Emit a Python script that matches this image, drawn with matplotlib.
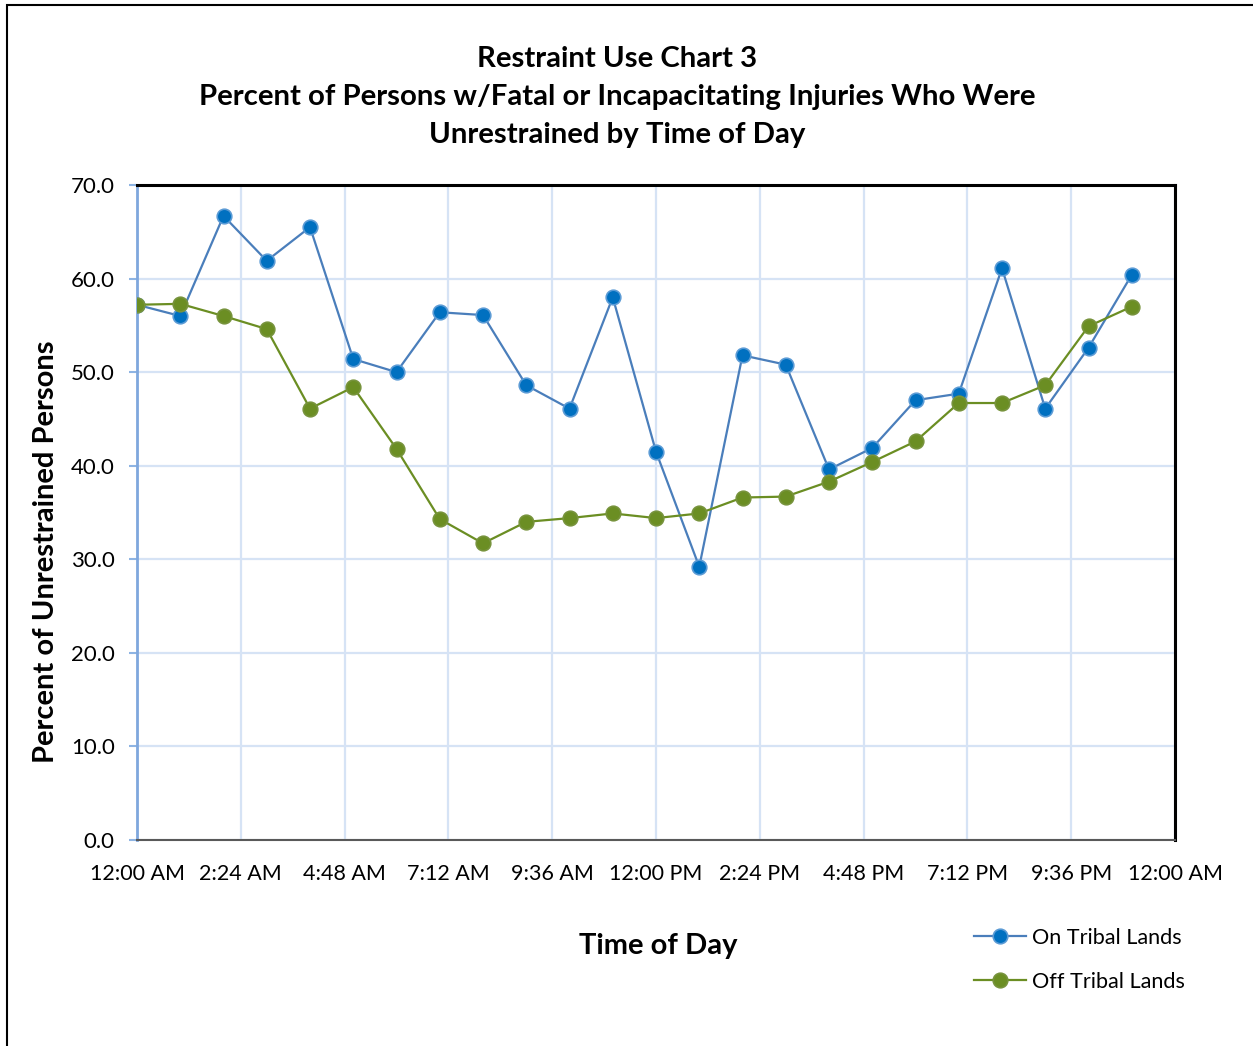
import numpy as np
import matplotlib.pyplot as plt
from matplotlib.patches import Rectangle

plt.rcParams["font.family"] = ["Lato", "DejaVu Sans"]

# hour of the day (0-23), plotted as a fraction of a day
hours = list(range(24))
on_tribal = [57.2, 56.0, 66.7, 61.9, 65.5, 51.4, 50.0, 56.4, 56.1, 48.6, 46.1, 58.0,
             41.5, 29.2, 51.8, 50.8, 39.6, 41.9, 47.0, 47.7, 61.1, 46.1, 52.6, 60.4]
off_tribal = [57.2, 57.3, 56.0, 54.6, 46.1, 48.4, 41.8, 34.3, 31.7, 34.0, 34.4, 34.9,
              34.4, 34.9, 36.6, 36.7, 38.3, 40.4, 42.6, 46.7, 46.7, 48.6, 54.9, 57.0]
tick_labels = ["12:00 AM", "2:24 AM", "4:48 AM", "7:12 AM", "9:36 AM", "12:00 PM",
               "2:24 PM", "4:48 PM", "7:12 PM", "9:36 PM", "12:00 AM"]
y_ticks = [0, 10, 20, 30, 40, 50, 60, 70]

x = np.array(hours) / 24.0

fig = plt.figure(figsize=(12.53, 10.46), dpi=100)
ax = fig.add_axes([137 / 1253, 1 - 840 / 1046, 1038 / 1253, 655 / 1046])

# outer chart border
fig.patches.append(Rectangle((7 / 1253, -0.01), 1.0, 1 - 5 / 1046 + 0.01,
                             transform=fig.transFigure, fill=False,
                             edgecolor="black", linewidth=1.5))

ax.plot(x, on_tribal, color="#4A7EBB", linewidth=1.6, marker="o", markersize=10.5,
        markerfacecolor="#0070C0", markeredgecolor="#5B9BD5", markeredgewidth=1.2,
        label="On Tribal Lands", zorder=3)
ax.plot(x, off_tribal, color="#6B8E23", linewidth=1.6, marker="o", markersize=10.5,
        markerfacecolor="#6B8E23", markeredgecolor="#77933C", markeredgewidth=1.2,
        label="Off Tribal Lands", zorder=3)

ax.set_xlim(0, 1)
ax.set_ylim(0, 70)
ax.set_xticks(np.linspace(0, 1, 11))
ax.set_xticklabels(tick_labels, fontsize=15.5)
ax.set_yticks(y_ticks)
ax.set_yticklabels([f"{v:.1f}" for v in y_ticks], fontsize=16)
ax.tick_params(axis="x", length=0, pad=17)
ax.tick_params(axis="y", length=6, color="#8EB4E3", width=1.5, pad=10)

ax.grid(True, color="#D6E3F5", linewidth=1.6)
ax.set_axisbelow(True)

ax.spines["top"].set_color("black")
ax.spines["top"].set_linewidth(2.2)
ax.spines["right"].set_color("black")
ax.spines["right"].set_linewidth(2.2)
ax.spines["left"].set_color("#7FA7DD")
ax.spines["left"].set_linewidth(2)
ax.spines["bottom"].set_color("#595959")
ax.spines["bottom"].set_linewidth(1.5)

fig.text(617 / 1253, 1 - 97 / 1046, "Restraint Use Chart 3\n"
         "Percent of Persons w/Fatal or Incapacitating Injuries Who Were\n"
         "Unrestrained by Time of Day",
         ha="center", va="center", fontsize=21.2, fontweight="bold",
         linespacing=1.57)

fig.text(46 / 1253, 1 - 552 / 1046, "Percent of Unrestrained Persons",
         rotation=90, ha="center", va="center", fontsize=21, fontweight="bold")
fig.text(658 / 1253, 1 - 946 / 1046, "Time of Day",
         ha="center", va="center", fontsize=21, fontweight="bold")

fig.legend(loc="center left", bbox_to_anchor=(954 / 1253, 1 - 960 / 1046),
           frameon=False, fontsize=15.6, handlelength=2.4, labelspacing=1.1,
           handletextpad=0.3)

fig.savefig("out.png", dpi=100)
